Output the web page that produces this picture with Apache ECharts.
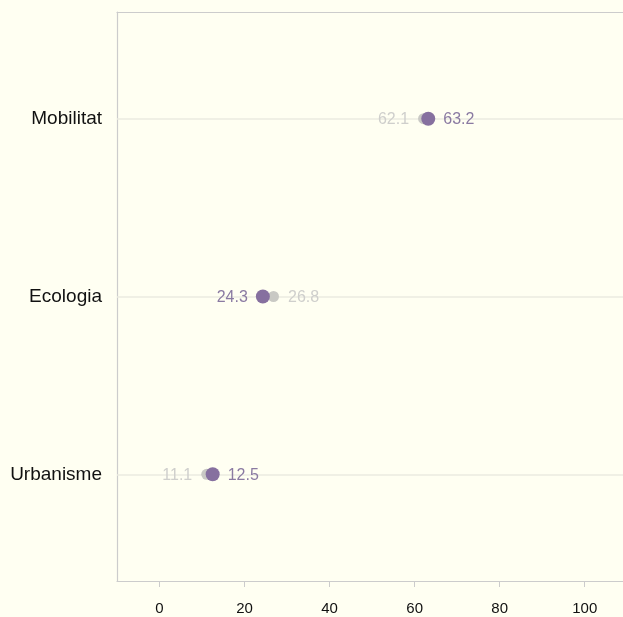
<!DOCTYPE html>
<html><head><meta charset="utf-8">
<script src="https://cdn.jsdelivr.net/npm/echarts@6/dist/echarts.min.js"></script>
<style>html,body{margin:0;padding:0;background:#fffff2;}#c{width:623px;height:617px;}</style>
</head><body><div id="c"></div>
<script>
const categories = ['Urbanisme', 'Ecologia', 'Mobilitat'];
const previValues = [11.1, 26.8, 62.1];
const actualValues = [12.5, 24.3, 63.2];
const xTicks = [0, 20, 40, 60, 80, 100];

const purple = '#86709f';
const grey = '#c9c9c4';
const purpleText = '#8a7aa2';
const greyText = '#cfcfcc';

function mk(values, other) {
  return values.map((v, i) => ({
    value: [v, i + 1],
    label: { position: v < other[i] ? 'left' : 'right' }
  }));
}

const axisLineStyle = { color: '#cccccc', width: 1.2 };

const chart = echarts.init(document.getElementById('c'), null, { renderer: 'canvas' });
chart.setOption({
  backgroundColor: '#fffff2',
  animation: false,
  textStyle: { fontFamily: 'Liberation Sans, Arial, sans-serif' },
  grid: { left: 117, top: 12, right: 0, bottom: 36, show: false },
  xAxis: [{
    type: 'value', min: -10, max: 109,
    axisLine: { show: true, onZero: false, lineStyle: axisLineStyle },
    axisTick: { show: true, length: 6, customValues: xTicks, lineStyle: { color: '#cccccc' } },
    axisLabel: { customValues: xTicks, color: '#111', fontSize: 15, margin: 20 },
    splitLine: { show: false }
  }, {
    type: 'value', position: 'top', min: -10, max: 109,
    axisLine: { show: true, onZero: false, lineStyle: axisLineStyle },
    axisTick: { show: false }, axisLabel: { show: false }, splitLine: { show: false }
  }],
  yAxis: {
    type: 'value', min: 0.4, max: 3.6,
    axisLine: { show: true, onZero: false, lineStyle: axisLineStyle },
    axisTick: { show: false },
    axisLabel: { customValues: [1, 2, 3], color: '#111', fontSize: 19, margin: 15,
      formatter: v => categories[Math.round(v) - 1] || '' },
    splitLine: { show: false }
  },
  series: [
    {
      name: 'previ', type: 'scatter', symbolSize: 11, z: 2,
      itemStyle: { color: grey, opacity: 1 },
      label: { show: true, color: greyText, fontSize: 16, distance: 9, offset: [0, 1], formatter: p => p.value[0].toFixed(1) },
      data: mk(previValues, actualValues),
      markLine: {
        silent: true, symbol: 'none', z: 1,
        label: { show: false },
        lineStyle: { color: '#ebebe0', width: 1.5, type: 'solid' },
        data: [{ yAxis: 1 }, { yAxis: 2 }, { yAxis: 3 }]
      }
    },
    {
      name: 'actual', type: 'scatter', symbolSize: 14, z: 3,
      itemStyle: { color: purple, opacity: 1 },
      label: { show: true, color: purpleText, fontSize: 16, distance: 8, offset: [0, 1], formatter: p => p.value[0].toFixed(1) },
      data: mk(actualValues, previValues)
    }
  ]
});
</script></body></html>
